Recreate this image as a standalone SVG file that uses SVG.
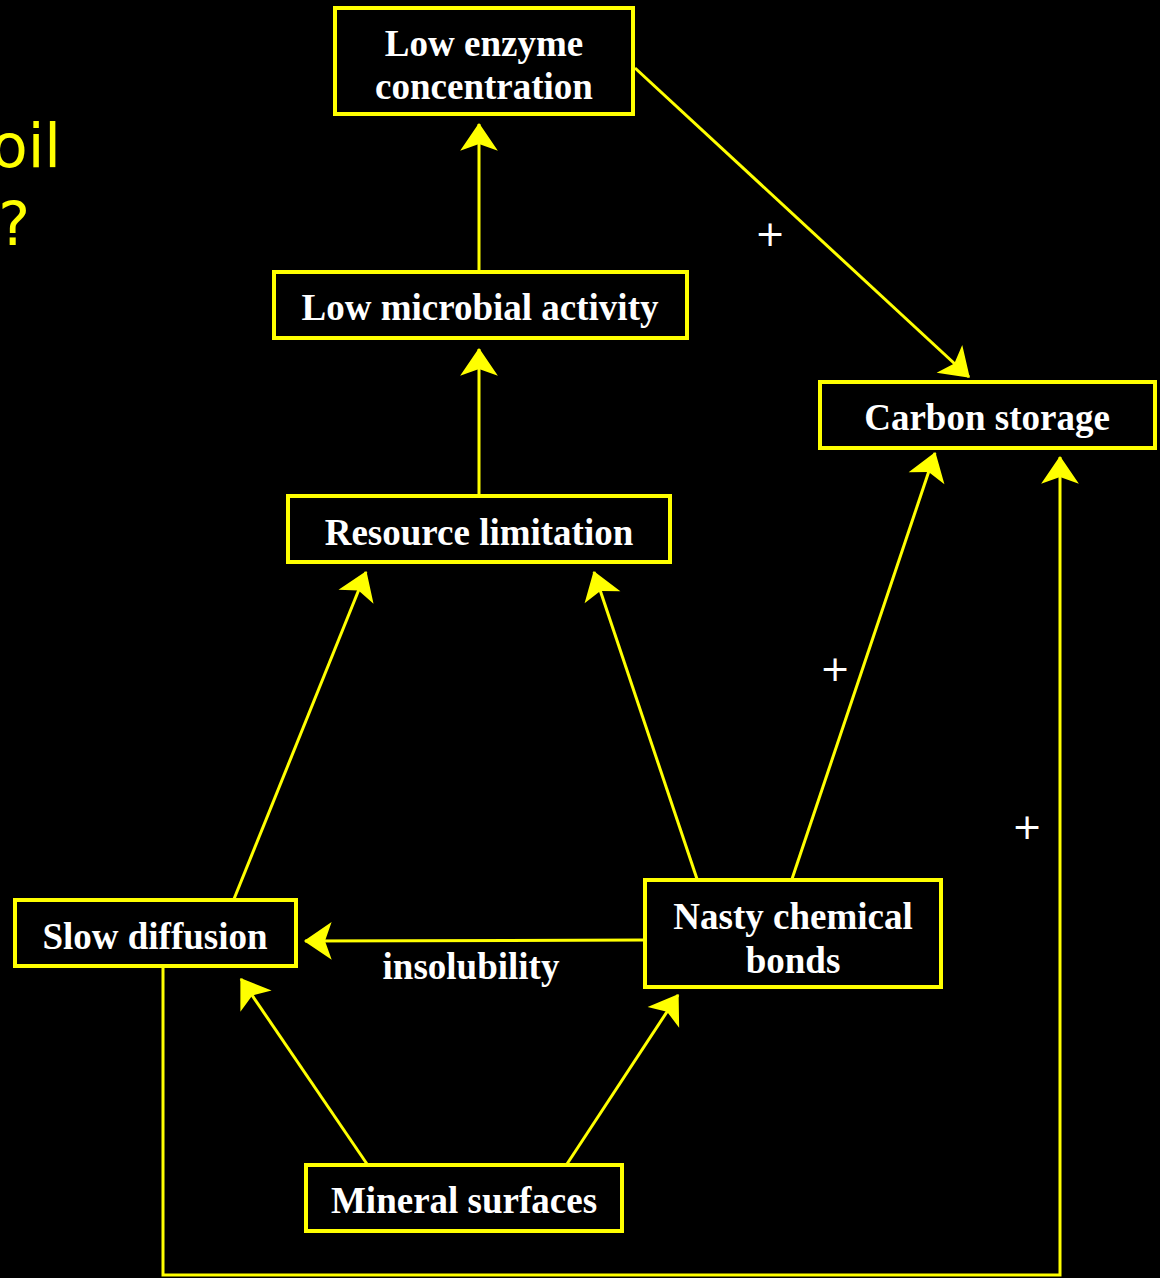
<svg xmlns="http://www.w3.org/2000/svg" width="1160" height="1278" viewBox="0 0 1160 1278">
<style>
.box{fill:#000;stroke:#ffff00;stroke-width:4}
.lbl{font-family:"Liberation Serif","Times New Roman",serif;font-weight:bold;font-size:37px;fill:#fff;text-anchor:middle}
.con{fill:none;stroke:#ffff00;stroke-width:3}
.plus{font-family:"DejaVu Sans",sans-serif;font-size:36px;fill:#fff;text-anchor:middle}
.title{font-family:"DejaVu Sans",sans-serif;font-size:60px;fill:#ffff00;text-anchor:end}
</style>
<defs>
<marker id="ah" markerUnits="userSpaceOnUse" markerWidth="40" markerHeight="40" viewBox="-26 -18 28 36" refX="0" refY="0" orient="auto">
<path d="M1,0 L-24,-17 L-18,0 L-24,17 Z" fill="#ffff00"/>
</marker>
</defs>
<rect width="1160" height="1278" fill="#000"/>
<text class="title" x="61" y="167">oil</text>
<text class="title" x="30" y="245">?</text>
<g id="connectors">
<path class="con" marker-end="url(#ah)" d="M479,272 L479,124"/>
<path class="con" marker-end="url(#ah)" d="M479,496 L479,349"/>
<path class="con" marker-end="url(#ah)" d="M635,68 L969,377"/>
<path class="con" marker-end="url(#ah)" d="M234,899 L366,572"/>
<path class="con" marker-end="url(#ah)" d="M697,879 L594,572"/>
<path class="con" marker-end="url(#ah)" d="M792,879 L935,453"/>
<path class="con" marker-end="url(#ah)" d="M644,940 L305,941"/>
<path class="con" marker-end="url(#ah)" d="M367,1164 L241,979"/>
<path class="con" marker-end="url(#ah)" d="M567,1164 L678,995"/>
<path class="con" marker-end="url(#ah)" d="M163,967 L163,1275 L1060,1275 L1060,457"/>
<text class="lbl" x="471" y="979">insolubility</text>
<text class="plus" x="770" y="246">+</text>
<text class="plus" x="835" y="681">+</text>
<text class="plus" x="1027" y="839">+</text>
</g>
<g id="low-enzyme">
<rect class="box" x="335" y="8" width="298" height="106"/>
<text class="lbl" x="484" y="56">Low enzyme</text>
<text class="lbl" x="484" y="99">concentration</text>
</g>
<g id="low-microbial">
<rect class="box" x="274" y="272" width="413" height="66"/>
<text class="lbl" x="480" y="320">Low microbial activity</text>
</g>
<g id="carbon-storage">
<rect class="box" x="820" y="382" width="335" height="66"/>
<text class="lbl" x="987" y="430">Carbon storage</text>
</g>
<g id="resource-limitation">
<rect class="box" x="288" y="496" width="382" height="66"/>
<text class="lbl" x="479" y="545">Resource limitation</text>
</g>
<g id="slow-diffusion">
<rect class="box" x="15" y="900" width="281" height="66"/>
<text class="lbl" x="155" y="949">Slow diffusion</text>
</g>
<g id="nasty-bonds">
<rect class="box" x="645" y="880" width="296" height="107"/>
<text class="lbl" x="793" y="929">Nasty chemical</text>
<text class="lbl" x="793" y="973">bonds</text>
</g>
<g id="mineral-surfaces">
<rect class="box" x="306" y="1165" width="316" height="66"/>
<text class="lbl" x="464" y="1213">Mineral surfaces</text>
</g>
</svg>
